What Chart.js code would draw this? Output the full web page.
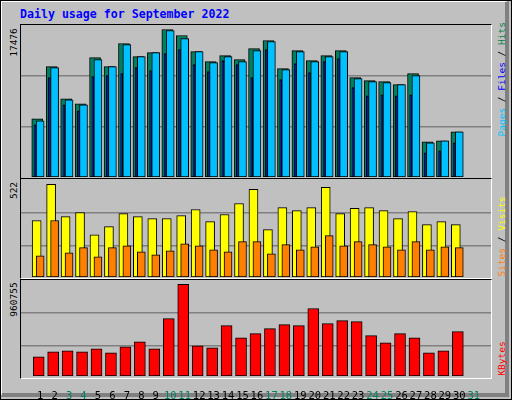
<!DOCTYPE html>
<html><head><meta charset="utf-8">
<script src="https://cdn.jsdelivr.net/npm/chart.js@4"></script>
<style>
html,body{margin:0;padding:0;}
body{width:512px;height:400px;position:relative;background:#C0C0C0;overflow:hidden;font-family:"DejaVu Sans Mono",monospace;}
.frame{position:absolute;left:0;top:0;width:510px;height:398px;border:1px solid #000;}
.inner{position:absolute;left:1px;top:1px;width:503px;height:391px;border-top:1px solid #fff;border-left:1px solid #fff;border-right:4px solid #808080;border-bottom:4px solid #808080;}
.panel{position:absolute;left:20px;width:470px;border-top:1px solid #000;border-left:1px solid #000;border-right:1px solid #fff;border-bottom:1px solid #fff;}
canvas{position:absolute;}
.rot{position:absolute;transform:rotate(-90deg);transform-origin:center;white-space:nowrap;font-size:9.5px;text-align:center;}
#title{position:absolute;left:20px;top:7px;color:#0000FF;font-weight:bold;font-size:11.6px;}
</style></head><body>
<div class="frame"></div><div class="inner"></div>
<div id="title">Daily usage for September 2022</div>
<div class="panel" style="top:24px;height:153px"></div>
<div class="panel" style="top:178px;height:99px"></div>
<div class="panel" style="top:279px;height:98px"></div>
<div class="rot" style="left:-7px;top:37px;width:40px;color:#000">17476</div>
<div class="rot" style="left:-7px;top:185px;width:40px;color:#000">522</div>
<div class="rot" style="left:-7px;top:294px;width:40px;color:#000">960755</div>
<div class="rot" style="left:446px;top:76px;width:110px;"><span style="color:#00C0FF">Pages</span> / <span style="color:#0000FF">Files</span> / <span style="color:#008040">Hits</span></div>
<div class="rot" style="left:451px;top:231px;width:100px;"><span style="color:#FF8000">Sites</span> / <span style="color:#FFFF00">Visits</span></div>
<div class="rot" style="left:471px;top:353px;width:60px;color:#FF0000">KBytes</div>
<canvas id="c1" style="left:21px;top:25px" width="470" height="152"></canvas>
<canvas id="c2" style="left:21px;top:179px" width="470" height="98"></canvas>
<canvas id="c3" style="left:21px;top:281px" width="470" height="119"></canvas>
<script>
const days = Array.from({length:31},(_,i)=>i+1);
const weekends = [3,4,10,11,17,18,24,25,31];
const hits  = [6895,13078,9273,8679,14148,13078,15812,14267,14742,17476,16763,14861,13672,14385,13910,15217,16169,12840,14980,13791,14385,14980,11770,11413,11294,10938,12246,4161,4280,5350];
const files = [6658,12959,9154,8560,13910,13078,15693,14267,14742,17358,16407,14861,13553,14267,13672,14980,16050,12721,14861,13672,14267,14861,11651,11294,11175,10938,12008,4042,4280,5350];
const pages = [6182,11770,8560,7847,11889,12008,12246,12959,12602,14623,15099,13315,12483,13791,13315,11770,15099,11532,13434,12364,13672,14029,10581,9630,9749,9630,9749,2853,3091,4042];
const visits= [318,522,340,363,238,284,357,340,329,329,346,380,312,352,414,494,267,391,374,391,505,357,386,391,374,329,369,295,312,295];
const sites = [119,318,136,165,113,165,176,142,125,148,187,176,153,142,199,199,130,182,153,170,233,176,199,182,170,153,199,153,170,165];
const kbytes= [200600,253400,263900,253400,285000,242800,306200,358900,285000,601700,960755,316700,295600,527900,401200,443400,496200,538400,527900,707300,549000,580600,570100,422300,348400,443400,401200,242800,263900,464500];

const XMIN=0.2, XMAX=31.67;
function pts(arr,off){return arr.map((v,i)=>({x:days[i]+off,y:v}));}
function ds(arr,off,color,w,order){return {data:pts(arr,off),backgroundColor:color,borderColor:'#000',borderWidth:1,borderSkipped:false,barThickness:w,grouped:false,order:order};}
function opts(ymax,grid,showX){
  const x={type:'linear',min:XMIN,max:XMAX,display:showX,grid:{display:false},border:{display:false},
        afterBuildTicks:s=>{s.ticks=days.map(v=>({value:v}));},
        ticks:{padding:6,font:{family:'DejaVu Sans Mono',size:10.5},maxRotation:0,autoSkip:false,
          color:c=>weekends.includes(c.tick.value)?'#008060':'#000'}};
  if(showX) x.afterFit=s=>{s.height=24;};
  return {responsive:false,animation:false,events:[],
    layout:{padding:0},
    plugins:{legend:{display:false},tooltip:{enabled:false}},
    scales:{
      x:x,
      y:{min:0,max:ymax,display:true,border:{display:false},
        afterBuildTicks:s=>{s.ticks=grid.map(v=>({value:v}));},
        afterFit:s=>{s.width=0;},
        ticks:{display:false},grid:{color:'#808080',lineWidth:1.5,drawTicks:false}}
    }};
}
new Chart(document.getElementById('c1'),{type:'bar',data:{datasets:[
  ds(hits,-0.2,'#008060',11,3), ds(files,0.0,'#00C0FF',8,2), ds(pages,-0.36,'#0000FF',2,1)]},
  options:opts(18009,[5924,11966],false)});
new Chart(document.getElementById('c2'),{type:'bar',data:{datasets:[
  ds(visits,-0.24,'#FFFF00',9,2), ds(sites,0.0,'#FF8000',8,1)]},
  options:opts(551.8,[174.5,360],false)});
new Chart(document.getElementById('c3'),{type:'bar',data:{datasets:[
  ds(kbytes,-0.1,'#FF0000',11,1)]},
  options:opts(995330,[314300,660060],true)});
</script></body></html>
